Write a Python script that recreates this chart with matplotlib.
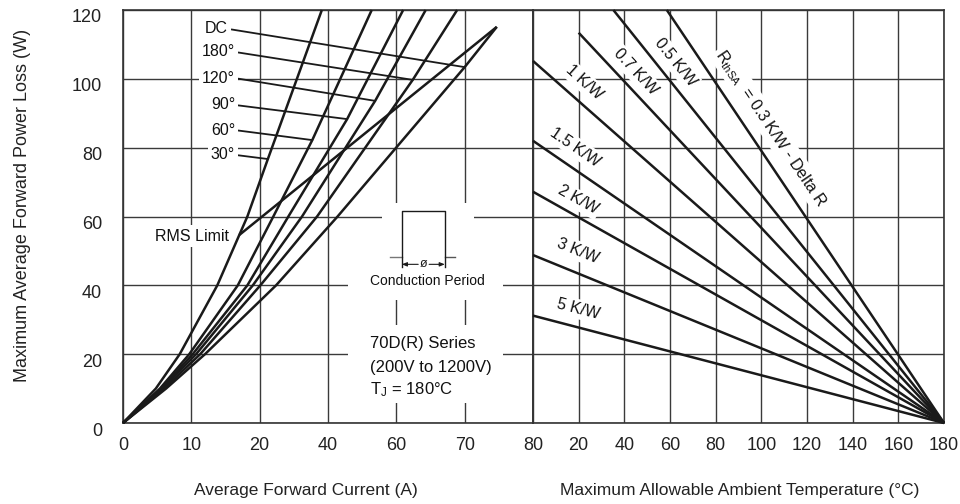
import matplotlib
matplotlib.use("Agg")
import matplotlib.pyplot as plt
import matplotlib.transforms as mtransforms
from matplotlib.patches import Rectangle

plt.rcParams['font.family'] = ['Liberation Sans', 'DejaVu Sans']
plt.rcParams['mathtext.fontset'] = 'custom'
plt.rcParams['mathtext.rm'] = 'Liberation Sans'
plt.rcParams['mathtext.it'] = 'Liberation Sans'

# ---------------- data ----------------
# left panel: average forward current (axis position units, 10 per grid) vs power loss (W)
left_xticks = [0, 10, 20, 30, 40, 50, 60]
left_xtick_labels = ["0", "10", "20", "40", "60", "70", "80"]
yticks = [0, 20, 40, 60, 80, 100, 120]

curve_labels = ["30°", "60°", "90°", "120°", "180°", "DC"]
curve_30_x = [0, 4.8, 8.3, 13.8, 18.2, 21.2, 29.1]
curve_30_y = [0, 10, 20, 40, 60, 76.7, 120]
curve_60_x = [0, 5.4, 9.7, 16.8, 22.0, 27.7, 36.4]
curve_60_y = [0, 10, 20, 40, 60, 82.2, 120]
curve_90_x = [0, 5.6, 10.2, 18.2, 24.2, 32.8, 41.0]
curve_90_y = [0, 10, 20, 40, 60, 88.3, 120]
curve_120_x = [0, 5.75, 10.7, 19.0, 26.2, 36.9, 44.3]
curve_120_y = [0, 10, 20, 40, 60, 93.6, 120]
curve_180_x = [0, 6.0, 11.3, 20.1, 28.4, 42.4, 48.9]
curve_180_y = [0, 10, 20, 40, 60, 99.7, 120]
curve_dc_x = [0, 6.3, 12.0, 22.4, 31.4, 50.0, 54.7]
curve_dc_y = [0, 10, 20, 40, 60, 103.4, 115.1]

rms_limit_x = [17.0, 54.7]
rms_limit_y = [54.6, 115.1]

# right panel: ambient temperature (°C) vs power loss (W)
right_xticks = [0, 20, 40, 60, 80, 100, 120, 140, 160, 180]
right_xtick_labels = ["", "20", "40", "60", "80", "100", "120", "140", "160", "180"]
rth_labels = ["0.3", "0.5", "0.7", "1", "1.5", "2", "3", "5"]
rth_start_temp = [58.6, 35.2, 20.0, 0, 0, 0, 0, 0]
rth_start_power = [120, 120, 113.4, 105.2, 82.0, 67.2, 48.8, 31.2]
ambient_max = 180
power_at_max = 0

# ---------------- figure ----------------
fig = plt.figure(figsize=(9.6, 5.04), dpi=100)
fig.patch.set_facecolor('white')
axL = fig.add_axes([123/960, 81/504, 410/960, 413/504])
axR = fig.add_axes([533/960, 81/504, 411/960, 413/504])

INK = '#1a1a1a'
GRID = '#3a3a3a'
for ax in (axL, axR):
    ax.set_ylim(0, 120)
    ax.set_yticks(yticks)
    ax.grid(True, color=GRID, lw=1.0, zorder=0)
    ax.set_axisbelow(True)
    ax.tick_params(length=0, labelsize=13, pad=10, colors='#222222')
    for s in ax.spines.values():
        s.set_color('#333333')
        s.set_linewidth(1.2)

axL.set_xlim(0, 60)
axL.set_xticks(left_xticks)
axL.set_xticklabels(left_xtick_labels)
axL.tick_params(axis='y', pad=15)
axR.set_xlim(0, 180)
axR.set_xticks(right_xticks)
axR.set_xticklabels(right_xtick_labels)
axR.tick_params(axis='y', labelleft=False)

offset = mtransforms.ScaledTranslation(0, -6/100, fig.dpi_scale_trans)
for lab in axL.get_yticklabels():
    lab.set_transform(lab.get_transform() + offset)

line_kw = dict(color=INK, lw=1.8, zorder=4, clip_on=False,
               solid_joinstyle='round', solid_capstyle='butt')

curves_x = [curve_30_x, curve_60_x, curve_90_x, curve_120_x, curve_180_x, curve_dc_x]
curves_y = [curve_30_y, curve_60_y, curve_90_y, curve_120_y, curve_180_y, curve_dc_y]
for cx, cy in zip(curves_x, curves_y):
    axL.plot(cx, cy, **line_kw)
axL.plot(rms_limit_x, rms_limit_y, **line_kw)

# curve labels with leaders (leaders end on the 6th read point of each curve)
label_pos = [(16.4, 77.9), (16.4, 85.1), (16.4, 92.4), (16.4, 100.2), (16.4, 107.8), (15.4, 114.5)]
for lab, (tx, ty), cx, cy in zip(curve_labels, label_pos, curves_x, curves_y):
    axL.annotate(lab, xy=(cx[5], cy[5]), xytext=(tx, ty), ha='right', va='center',
                 fontsize=11.5, color='#111111', zorder=3,
                 bbox=dict(boxstyle='square,pad=0.2', fc='white', ec='none'),
                 arrowprops=dict(arrowstyle='-', lw=1.3, color=INK, shrinkA=0, shrinkB=0,
                                 relpos=(1, 0.5)))

axL.text(15.5, 54.3, "RMS Limit", ha='right', va='center', fontsize=11.5, color='#111111',
         zorder=3, bbox=dict(boxstyle='square,pad=0.2', fc='white', ec='none'))

# white panels behind the inset annotations
for (x0, y0, w, h) in [(37.9, 44.5, 13.5, 19.4), (32.9, 35.7, 22.7, 8.8), (32.9, 5.8, 22.7, 22.7)]:
    axL.add_patch(Rectangle((x0, y0), w, h, fc='white', ec='none', zorder=2))

# conduction-period pulse icon
axL.plot([39.1, 40.8], [48.3, 48.3], color='#777777', lw=1.0, zorder=3)
axL.plot([47.1, 48.6], [48.3, 48.3], color='#555555', lw=1.0, zorder=3)
axL.plot([40.8, 40.8, 47.1, 47.1], [45.3, 61.6, 61.6, 45.3], color=INK, lw=1.0, zorder=3)
axL.annotate('', xy=(40.8, 46.1), xytext=(43.2, 46.1),
             arrowprops=dict(arrowstyle='-|>,head_length=0.3,head_width=0.12', lw=0.8,
                             color=INK, shrinkA=0, shrinkB=0), zorder=3)
axL.annotate('', xy=(47.1, 46.1), xytext=(44.8, 46.1),
             arrowprops=dict(arrowstyle='-|>,head_length=0.3,head_width=0.12', lw=0.8,
                             color=INK, shrinkA=0, shrinkB=0), zorder=3)
axL.text(44.0, 46.3, "ø", ha='center', va='center', fontsize=9, color=INK, zorder=3)
axL.text(44.5, 41.3, "Conduction Period", ha='center', va='center', fontsize=10,
         color='#111111', zorder=3)
axL.text(36.1, 23.1, "70D(R) Series", ha='left', va='center', fontsize=12, color='#111111', zorder=3)
axL.text(36.1, 16.1, "(200V to 1200V)", ha='left', va='center', fontsize=12, color='#111111', zorder=3)
axL.text(36.1, 9.6, r"T$_\mathregular{J}$ = 180°C", ha='left', va='center', fontsize=12,
         color='#111111', zorder=3)

# right panel lines
for t0, p0 in zip(rth_start_temp, rth_start_power):
    axR.plot([t0, ambient_max], [p0, power_at_max], **line_kw)

rth_text = [r"R$_\mathregular{thSA}$  = 0.3 K/W - Delta R", "0.5 K/W", "0.7 K/W", "1 K/W",
            "1.5 K/W", "2 K/W", "3 K/W", "5 K/W"]
rth_text_pos = [(104.2, 85.7), (62.2, 104.9), (45.1, 102.0), (22.3, 99.1),
                (18.4, 80.2), (19.7, 64.8), (19.7, 50.0), (19.7, 33.1)]
rth_text_rot = [-56, -51, -47, -42, -34.5, -29, -22, -14.6]
for txt, (tx, ty), rot in zip(rth_text, rth_text_pos, rth_text_rot):
    axR.text(tx, ty, txt, ha='center', va='center', rotation=rot, rotation_mode='anchor',
             fontsize=11.5, color='#111111', zorder=3,
             bbox=dict(boxstyle='square,pad=0.15', fc='white', ec='none'))

# axis titles
fig.text(306/960, 1 - 490/504, "Average Forward Current (A)", ha='center', va='center',
         fontsize=12.5, color='#222222')
fig.text(740/960, 1 - 490/504, "Maximum Allowable Ambient Temperature (°C)", ha='center',
         va='center', fontsize=12.5, color='#222222')
fig.text(23/960, 1 - 205/504, "Maximum Average Forward Power Loss (W)", ha='center',
         va='center', rotation=90, fontsize=13, color='#222222')

fig.savefig("out.png", dpi=100, facecolor='white')
